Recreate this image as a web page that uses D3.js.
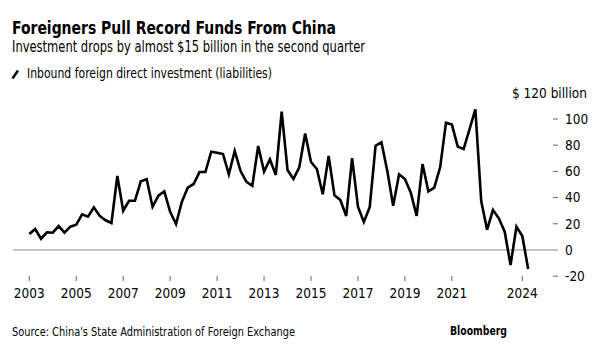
<!DOCTYPE html>
<html>
<head>
<meta charset="utf-8">
<script src="https://cdn.jsdelivr.net/npm/d3@7"></script>
<style>
  body { margin: 0; background: #fff; }
  text { font-family: "Liberation Sans Narrow", "DejaVu Sans Condensed", Roboto, sans-serif; fill: #000; }
</style>
</head>
<body>
<div id="chart"></div>
<script>
// quarterly FDI liabilities, $ billion, 2003Q1 .. 2024Q2
var startYear = 2003;
var fdiValues = [
  12.2, 16, 8.6, 13.5, 13.2, 18.3, 13.2, 17.8,
  19.3, 27.2, 25.4, 32.6, 26, 22.7, 20.6, 56.5,
  30, 37.6, 37.6, 52.4, 54, 33, 41.5, 44.8,
  29.2, 19.8, 36.9, 47.6, 50.4, 59.5, 59.5, 75,
  74.3, 73.3, 57.8, 75.6, 60.3, 52.1, 49, 79.4,
  59.8, 69.2, 57.3, 105.6, 61, 54.2, 63.1, 89,
  67.2, 61.8, 42.5, 71.8, 41.7, 38.2, 26, 70.2,
  33, 21.4, 32.6, 79.6, 82.2, 60.3, 33.8, 57.8,
  54.2, 43.8, 26, 65.6, 44.8, 47.6, 63.1, 97.2,
  95.7, 78.9, 77.1, 92.1, 107.4, 37.4, 15.5, 30.5,
  24.2, 14, -11.5, 17.8, 10.7, -14.5
];
var xTickYears = [2003, 2005, 2007, 2009, 2011, 2013, 2015, 2017, 2019, 2021, 2024];
var yTickValues = [-20, 0, 20, 40, 60, 80, 100];
var yTopLabel = "$ 120 billion";

var width = 600, height = 352;

var svg = d3.select("#chart")
  .append("svg")
    .attr("width", width)
    .attr("height", height);

var data = fdiValues.map(function(v, i) {
  return { t: startYear + i / 4, value: v };
});

var x = d3.scaleLinear()
  .domain([2003, 2024])
  .range([29.3, 522.3]);

var y = d3.scaleLinear()
  .domain([0, 100])
  .range([250, 119]);

// titles
svg.append("text")
  .attr("x", 12).attr("y", 34)
  .attr("font-size", 17).attr("font-weight", "bold")
  .attr("textLength", 324).attr("lengthAdjust", "spacingAndGlyphs")
  .text("Foreigners Pull Record Funds From China");

svg.append("text")
  .attr("x", 12).attr("y", 52)
  .attr("font-size", 15)
  .attr("textLength", 353).attr("lengthAdjust", "spacingAndGlyphs")
  .text("Investment drops by almost $15 billion in the second quarter");

// legend
svg.append("line")
  .attr("x1", 12.5).attr("y1", 78.5)
  .attr("x2", 18).attr("y2", 70.5)
  .attr("stroke", "#000")
  .attr("stroke-width", 2.5);

svg.append("text")
  .attr("x", 27).attr("y", 77.5)
  .attr("font-size", 14)
  .attr("textLength", 245).attr("lengthAdjust", "spacingAndGlyphs")
  .text("Inbound foreign direct investment (liabilities)");

// zero line
svg.append("line")
  .attr("x1", 13).attr("x2", 558)
  .attr("y1", y(0)).attr("y2", y(0))
  .attr("stroke", "#8a8a8a")
  .attr("stroke-width", 1);

// y axis (right side)
var yAxis = svg.append("g");
yAxis.selectAll("line.ytick")
  .data(yTickValues.filter(function(d) { return d !== 0; }))
  .enter().append("line")
    .attr("x1", 553).attr("x2", 558)
    .attr("y1", function(d) { return y(d); })
    .attr("y2", function(d) { return y(d); })
    .attr("stroke", "#666")
    .attr("stroke-width", 1);

yAxis.selectAll("text.ylab")
  .data(yTickValues)
  .enter().append("text")
    .attr("x", 565)
    .attr("y", function(d) { return y(d); })
    .attr("dy", "0.36em")
    .attr("font-size", 13.5)
    .attr("fill", "#222")
    .text(function(d) { return d; });

svg.append("text")
  .attr("x", 587).attr("y", y(120))
  .attr("dy", "0.36em")
  .attr("text-anchor", "end")
  .attr("font-size", 13.5)
  .text(yTopLabel);

// x axis
var xAxis = svg.append("g");
xAxis.selectAll("line")
  .data(xTickYears)
  .enter().append("line")
    .attr("x1", function(d) { return x(d); })
    .attr("x2", function(d) { return x(d); })
    .attr("y1", 276).attr("y2", 281)
    .attr("stroke", "#666")
    .attr("stroke-width", 1);

xAxis.selectAll("text")
  .data(xTickYears)
  .enter().append("text")
    .attr("x", function(d) { return x(d); })
    .attr("y", 298)
    .attr("text-anchor", "middle")
    .attr("font-size", 13.5)
    .attr("fill", "#222")
    .text(function(d) { return d; });

// the series
var line = d3.line()
  .x(function(d) { return x(d.t); })
  .y(function(d) { return y(d.value); });

svg.append("path")
  .datum(data)
  .attr("fill", "none")
  .attr("stroke", "#000")
  .attr("stroke-width", 2.6)
  .attr("d", line);

// footer
svg.append("text")
  .attr("x", 12).attr("y", 336)
  .attr("font-size", 13)
  .attr("fill", "#222")
  .attr("textLength", 283).attr("lengthAdjust", "spacingAndGlyphs")
  .text("Source: China's State Administration of Foreign Exchange");

svg.append("text")
  .attr("x", 450).attr("y", 335)
  .attr("font-size", 12.5)
  .attr("font-weight", "bold")
  .attr("textLength", 57).attr("lengthAdjust", "spacingAndGlyphs")
  .text("Bloomberg");
</script>
</body>
</html>
